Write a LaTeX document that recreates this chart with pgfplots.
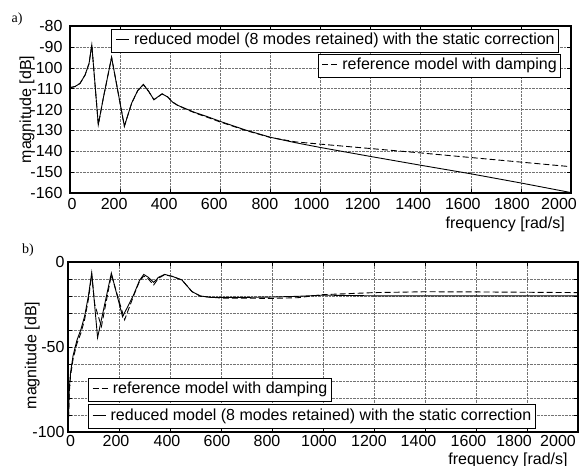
\documentclass[border=0pt]{standalone}
\usepackage{pgfplots}
\pgfplotsset{compat=1.18}
\usepackage{fontspec}
\setmainfont{Liberation Sans}
\newfontfamily\serifa{Liberation Serif}
% label shifted by half of #1 (right: \shr, left: \shl)
\newcommand\shr[2]{\makebox[0pt]{\hspace*{#1}#2}}
\newcommand\shl[2]{\makebox[0pt]{#2\hspace*{#1}}}

\pgfplotsset{
  myax/.style={
    scale only axis, xmin=0, xmax=2000, xtick={0,200,...,2000},
    grid=major, major grid style={densely dotted, black!55, line width=0.5pt},
    axis line style={line width=1.3pt},
    tick style={black, line width=0.5pt}, major tick length=4bp, minor tick length=4bp,
    tick align=inside,
    /pgf/number format/assume math mode=true,
    /pgf/number format/set thousands separator={},
    ticklabel style={font=\fontsize{16bp}{19bp}\selectfont},
    label style={font=\fontsize{16bp}{19bp}\selectfont},
  },
  sol/.style={black, line width=0.9pt},
  das/.style={black, line width=0.9pt, dash pattern=on 6bp off 3bp},
}

\pgfplotstableread{
f v
0 -109.5
20 -109
40 -107.5
60 -103.5
76 -98
87 -89
113 -127.3
133 -114.5
166 -95
217 -128
246 -117
270 -111
293 -108
315 -111.5
335 -115.3
350 -114
368 -112.5
390 -114
410 -116.5
430 -118
460 -119.5
500 -121.5
550 -123.5
600 -125.7
700 -129.8
800 -133.3
900 -135.9
1000 -138.2
1200 -142.5
1400 -146.7
1600 -150.8
1800 -155.2
2000 -159.8
}\topred

\pgfplotstableread{
f v
0 -109.5
20 -109
40 -107.5
60 -103.5
76 -98
87 -89
113 -127.3
133 -114.5
166 -95
217 -128
246 -117
270 -111
293 -108
315 -111.5
335 -115.3
350 -114
368 -112.5
390 -114
410 -116.5
430 -118
460 -119.7
500 -121.7
550 -123.8
600 -126
700 -130
800 -133.4
900 -135.5
1000 -136.6
1200 -138.7
1400 -140.8
1600 -143.0
1800 -145.2
2000 -147.4
}\topref

\pgfplotstableread{
f v
1 -97
5 -75
10 -65
20 -55
35 -46
50 -40
65 -32
80 -20
93 -6.3
116 -44.5
170 -6.5
214 -32.2
235 -26
257 -19.4
280 -11
297 -7.3
315 -9
336 -12
355 -9
379 -7.3
410 -8.5
447 -10.6
486 -17.4
520 -20
560 -20.8
600 -20.8
700 -20.8
800 -20.6
900 -20.2
1000 -19.5
1200 -19.9
1400 -19.9
1600 -19.9
1800 -19.9
2000 -19.9
}\botred

\pgfplotstableread{
f v
1 -97
5 -77
10 -67
20 -57
35 -48
50 -42
65 -34
80 -22
93 -7.5
105 -25
131 -38
170 -7.5
222 -34
257 -20
280 -11.5
297 -8.2
315 -10
336 -13.5
355 -9.5
379 -7.5
410 -8.5
447 -10.6
486 -17.4
520 -20.2
600 -21.2
800 -21.4
900 -21
1000 -19.2
1200 -18
1400 -17.5
1600 -17.6
1800 -17.8
2000 -18.0
}\botref

\begin{document}
\fontsize{16bp}{19bp}\selectfont
\begin{tikzpicture}
\useasboundingbox (0,0) rectangle (582bp,-466bp);

\begin{axis}[myax, at={(70bp,-193bp)}, anchor=south west,
  width=501bp, height=167bp,
  ymin=-160, ymax=-80, ytick={-160,-150,...,-80},
  xticklabels={\raisebox{-3bp}{\shr{4bp}{0}},\shl{12bp}{200},\shl{12bp}{400},\shl{12bp}{600},\shl{11bp}{800},\shl{18bp}{1000},\shl{16bp}{1200},\shl{15bp}{1400},\shl{16bp}{1600},\shl{18bp}{1800},\shl{24bp}{2000}},
  ylabel={magnitude [dB]},
  xlabel={frequency [rad/s]},
  every axis y label/.style={at={(axis description cs:-0.086,0.5)}, rotate=90, anchor=center},
  every axis x label/.style={at={(axis description cs:0.988,0)}, anchor=north east, inner sep=0pt, yshift=-24bp},
  yticklabel style={xshift=-2bp},
]
\addplot[sol] table[x=f,y=v] {\topred};
\addplot[das] table[x=f,y=v] {\topref};
\end{axis}

\begin{axis}[myax, at={(68bp,-432bp)}, anchor=south west,
  width=510bp, height=170bp,
  ymin=-100, ymax=0, ytick={-100,-50,0}, minor ytick={-90,-80,...,-10},
  xticklabels={\shr{5bp}{0},\shl{6bp}{200},\shl{6bp}{400},\shl{8bp}{600},\shl{10bp}{800},\shl{8bp}{1000},\shl{10bp}{1200},\shl{13bp}{1400},\shl{15bp}{1600},\shl{26bp}{1800},\shl{40bp}{2000}},
  xticklabel style={yshift=2bp},
  grid=both, minor grid style={densely dotted, black!55, line width=0.5pt},
  ylabel={magnitude [dB]},
  xlabel={frequency [rad/s]},
  every axis y label/.style={at={(axis description cs:-0.07,0.45)}, rotate=90, anchor=center},
  every axis x label/.style={at={(axis description cs:0.98,0)}, anchor=north east, inner sep=0pt, yshift=-21bp},
  yticklabel style={xshift=2bp},
]
\addplot[das] table[x=f,y=v] {\botref};
\addplot[sol] table[x=f,y=v] {\botred};
\end{axis}

% legend boxes
\node[draw, fill=white, line width=0.6pt, anchor=north east, inner xsep=4bp, inner ysep=0pt, minimum height=23bp] at (559bp,-29bp)
  {\tikz[baseline=-0.6ex]\draw[line width=0.9pt] (0,0)--(13bp,0);\ reduced model (8 modes retained) with the static correction};
\node[draw, fill=white, line width=0.6pt, anchor=north east, inner xsep=4bp, inner ysep=0pt, minimum height=23bp] at (561bp,-54bp)
  {\tikz[baseline=-0.6ex]\draw[line width=0.9pt, dash pattern=on 6bp off 3bp] (0,0)--(17bp,0);\,reference model with damping};
\node[draw, fill=white, line width=0.6pt, anchor=north west, inner xsep=4bp, inner ysep=0pt, minimum height=23bp] at (88bp,-378bp)
  {\tikz[baseline=-0.6ex]\draw[line width=0.9pt, dash pattern=on 6bp off 3bp] (0,0)--(17bp,0);\,reference model with damping};
\node[draw, fill=white, line width=0.6pt, anchor=north west, inner xsep=4bp, inner ysep=0pt, minimum height=24bp] at (88bp,-404bp)
  {\tikz[baseline=-0.6ex]\draw[line width=0.9pt] (0,0)--(13bp,0);\ reduced model (8 modes retained) with the static correction};

\node[font=\serifa\fontsize{14bp}{16bp}\selectfont] at (17bp,-19bp) {a)};
\node[font=\serifa\fontsize{14bp}{16bp}\selectfont] at (28bp,-250bp) {b)};
\end{tikzpicture}
\end{document}
